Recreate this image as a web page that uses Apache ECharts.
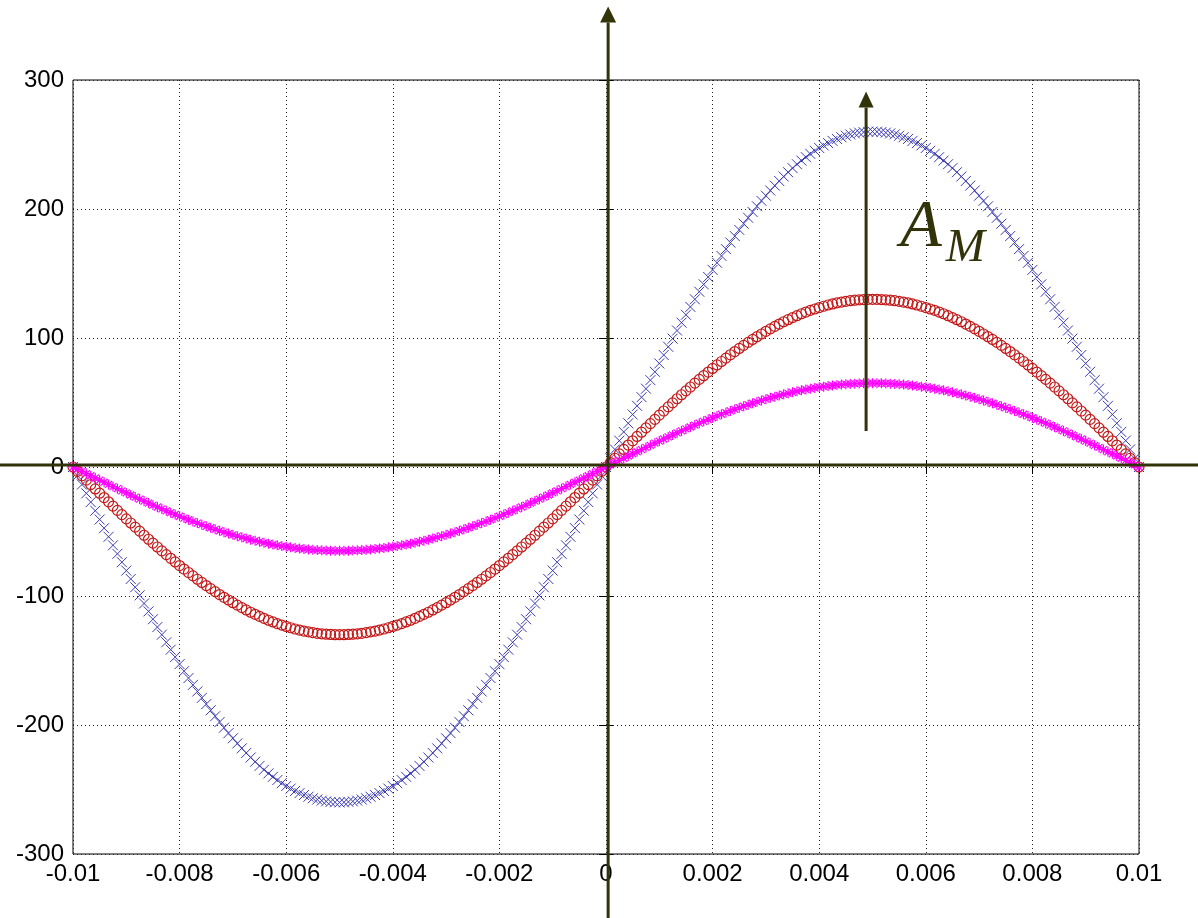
<!DOCTYPE html>
<html><head><meta charset="utf-8">
<script src="https://cdn.jsdelivr.net/npm/echarts@6/dist/echarts.min.js"></script>
<style>html,body{margin:0;padding:0;background:#fff}#c{width:1198px;height:918px}</style>
</head><body><div id="c"></div>
<script>
// time samples (s)
const t = [
-0.01,-0.009917,-0.009833,-0.00975,-0.009667,-0.009583,-0.0095,-0.009417,-0.009333,-0.00925,-0.009167,-0.009083,
-0.009,-0.008917,-0.008833,-0.00875,-0.008667,-0.008583,-0.0085,-0.008417,-0.008333,-0.00825,-0.008167,-0.008083,
-0.008,-0.007917,-0.007833,-0.00775,-0.007667,-0.007583,-0.0075,-0.007417,-0.007333,-0.00725,-0.007167,-0.007083,
-0.007,-0.006917,-0.006833,-0.00675,-0.006667,-0.006583,-0.0065,-0.006417,-0.006333,-0.00625,-0.006167,-0.006083,
-0.006,-0.005917,-0.005833,-0.00575,-0.005667,-0.005583,-0.0055,-0.005417,-0.005333,-0.00525,-0.005167,-0.005083,
-0.005,-0.004917,-0.004833,-0.00475,-0.004667,-0.004583,-0.0045,-0.004417,-0.004333,-0.00425,-0.004167,-0.004083,
-0.004,-0.003917,-0.003833,-0.00375,-0.003667,-0.003583,-0.0035,-0.003417,-0.003333,-0.00325,-0.003167,-0.003083,
-0.003,-0.002917,-0.002833,-0.00275,-0.002667,-0.002583,-0.0025,-0.002417,-0.002333,-0.00225,-0.002167,-0.002083,
-0.002,-0.001917,-0.001833,-0.00175,-0.001667,-0.001583,-0.0015,-0.001417,-0.001333,-0.00125,-0.001167,-0.001083,
-0.001,-0.000917,-0.000833,-0.00075,-0.000667,-0.000583,-0.0005,-0.000417,-0.000333,-0.00025,-0.000167,-0.000083,
0,0.000083,0.000167,0.00025,0.000333,0.000417,0.0005,0.000583,0.000667,0.00075,0.000833,0.000917,
0.001,0.001083,0.001167,0.00125,0.001333,0.001417,0.0015,0.001583,0.001667,0.00175,0.001833,0.001917,
0.002,0.002083,0.002167,0.00225,0.002333,0.002417,0.0025,0.002583,0.002667,0.00275,0.002833,0.002917,
0.003,0.003083,0.003167,0.00325,0.003333,0.003417,0.0035,0.003583,0.003667,0.00375,0.003833,0.003917,
0.004,0.004083,0.004167,0.00425,0.004333,0.004417,0.0045,0.004583,0.004667,0.00475,0.004833,0.004917,
0.005,0.005083,0.005167,0.00525,0.005333,0.005417,0.0055,0.005583,0.005667,0.00575,0.005833,0.005917,
0.006,0.006083,0.006167,0.00625,0.006333,0.006417,0.0065,0.006583,0.006667,0.00675,0.006833,0.006917,
0.007,0.007083,0.007167,0.00725,0.007333,0.007417,0.0075,0.007583,0.007667,0.00775,0.007833,0.007917,
0.008,0.008083,0.008167,0.00825,0.008333,0.008417,0.0085,0.008583,0.008667,0.00875,0.008833,0.008917,
0.009,0.009083,0.009167,0.00925,0.009333,0.009417,0.0095,0.009583,0.009667,0.00975,0.009833,0.009917,
0.01
];
// blue 'x' series
const blueX = [
0,-6.8,-13.6,-20.4,-27.2,-33.9,-40.7,-47.4,-54.1,-60.7,-67.3,-73.8,-80.3,-86.8,-93.2,-99.5,-105.8,-111.9,-118.0,-124.1,
-130.0,-135.9,-141.6,-147.3,-152.8,-158.3,-163.6,-168.9,-174.0,-179.0,-183.8,-188.6,-193.2,-197.7,-202.1,-206.3,-210.3,-214.3,-218.1,-221.7,
-225.2,-228.5,-231.7,-234.7,-237.5,-240.2,-242.7,-245.1,-247.3,-249.3,-251.1,-252.8,-254.3,-255.6,-256.8,-257.8,-258.6,-259.2,-259.6,-259.9,
-260,
-259.9,-259.6,-259.2,-258.6,-257.8,-256.8,-255.6,-254.3,-252.8,-251.1,-249.3,-247.3,-245.1,-242.7,-240.2,-237.5,-234.7,-231.7,-228.5,-225.2,
-221.7,-218.1,-214.3,-210.3,-206.3,-202.1,-197.7,-193.2,-188.6,-183.8,-179.0,-174.0,-168.9,-163.6,-158.3,-152.8,-147.3,-141.6,-135.9,-130.0,
-124.1,-118.0,-111.9,-105.8,-99.5,-93.2,-86.8,-80.3,-73.8,-67.3,-60.7,-54.1,-47.4,-40.7,-33.9,-27.2,-20.4,-13.6,-6.8,0,
6.8,13.6,20.4,27.2,33.9,40.7,47.4,54.1,60.7,67.3,73.8,80.3,86.8,93.2,99.5,105.8,111.9,118.0,124.1,130.0,
135.9,141.6,147.3,152.8,158.3,163.6,168.9,174.0,179.0,183.8,188.6,193.2,197.7,202.1,206.3,210.3,214.3,218.1,221.7,225.2,
228.5,231.7,234.7,237.5,240.2,242.7,245.1,247.3,249.3,251.1,252.8,254.3,255.6,256.8,257.8,258.6,259.2,259.6,259.9,260,
259.9,259.6,259.2,258.6,257.8,256.8,255.6,254.3,252.8,251.1,249.3,247.3,245.1,242.7,240.2,237.5,234.7,231.7,228.5,225.2,
221.7,218.1,214.3,210.3,206.3,202.1,197.7,193.2,188.6,183.8,179.0,174.0,168.9,163.6,158.3,152.8,147.3,141.6,135.9,130.0,
124.1,118.0,111.9,105.8,99.5,93.2,86.8,80.3,73.8,67.3,60.7,54.1,47.4,40.7,33.9,27.2,20.4,13.6,6.8,0
];
// red 'o' series
const redO = [
0,-3.4,-6.8,-10.2,-13.6,-17.0,-20.3,-23.7,-27.0,-30.3,-33.6,-36.9,-40.2,-43.4,-46.6,-49.7,-52.9,-56.0,-59.0,-62.0,
-65.0,-67.9,-70.8,-73.6,-76.4,-79.1,-81.8,-84.4,-87.0,-89.5,-91.9,-94.3,-96.6,-98.9,-101.0,-103.1,-105.2,-107.1,-109.0,-110.8,
-112.6,-114.2,-115.8,-117.3,-118.8,-120.1,-121.4,-122.5,-123.6,-124.6,-125.6,-126.4,-127.2,-127.8,-128.4,-128.9,-129.3,-129.6,-129.8,-130.0,
-130,
-130.0,-129.8,-129.6,-129.3,-128.9,-128.4,-127.8,-127.2,-126.4,-125.6,-124.6,-123.6,-122.5,-121.4,-120.1,-118.8,-117.3,-115.8,-114.2,-112.6,
-110.8,-109.0,-107.1,-105.2,-103.1,-101.0,-98.9,-96.6,-94.3,-91.9,-89.5,-87.0,-84.4,-81.8,-79.1,-76.4,-73.6,-70.8,-67.9,-65.0,
-62.0,-59.0,-56.0,-52.9,-49.7,-46.6,-43.4,-40.2,-36.9,-33.6,-30.3,-27.0,-23.7,-20.3,-17.0,-13.6,-10.2,-6.8,-3.4,0,
3.4,6.8,10.2,13.6,17.0,20.3,23.7,27.0,30.3,33.6,36.9,40.2,43.4,46.6,49.7,52.9,56.0,59.0,62.0,65.0,
67.9,70.8,73.6,76.4,79.1,81.8,84.4,87.0,89.5,91.9,94.3,96.6,98.9,101.0,103.1,105.2,107.1,109.0,110.8,112.6,
114.2,115.8,117.3,118.8,120.1,121.4,122.5,123.6,124.6,125.6,126.4,127.2,127.8,128.4,128.9,129.3,129.6,129.8,130.0,130,
130.0,129.8,129.6,129.3,128.9,128.4,127.8,127.2,126.4,125.6,124.6,123.6,122.5,121.4,120.1,118.8,117.3,115.8,114.2,112.6,
110.8,109.0,107.1,105.2,103.1,101.0,98.9,96.6,94.3,91.9,89.5,87.0,84.4,81.8,79.1,76.4,73.6,70.8,67.9,65.0,
62.0,59.0,56.0,52.9,49.7,46.6,43.4,40.2,36.9,33.6,30.3,27.0,23.7,20.3,17.0,13.6,10.2,6.8,3.4,0
];
// magenta '*' series
const magentaStar = [
0,-1.7,-3.4,-5.1,-6.8,-8.5,-10.2,-11.8,-13.5,-15.2,-16.8,-18.5,-20.1,-21.7,-23.3,-24.9,-26.4,-28.0,-29.5,-31.0,
-32.5,-34.0,-35.4,-36.8,-38.2,-39.6,-40.9,-42.2,-43.5,-44.7,-46.0,-47.1,-48.3,-49.4,-50.5,-51.6,-52.6,-53.6,-54.5,-55.4,
-56.3,-57.1,-57.9,-58.7,-59.4,-60.1,-60.7,-61.3,-61.8,-62.3,-62.8,-63.2,-63.6,-63.9,-64.2,-64.4,-64.6,-64.8,-64.9,-65.0,
-65,
-65.0,-64.9,-64.8,-64.6,-64.4,-64.2,-63.9,-63.6,-63.2,-62.8,-62.3,-61.8,-61.3,-60.7,-60.1,-59.4,-58.7,-57.9,-57.1,-56.3,
-55.4,-54.5,-53.6,-52.6,-51.6,-50.5,-49.4,-48.3,-47.1,-46.0,-44.7,-43.5,-42.2,-40.9,-39.6,-38.2,-36.8,-35.4,-34.0,-32.5,
-31.0,-29.5,-28.0,-26.4,-24.9,-23.3,-21.7,-20.1,-18.5,-16.8,-15.2,-13.5,-11.8,-10.2,-8.5,-6.8,-5.1,-3.4,-1.7,0,
1.7,3.4,5.1,6.8,8.5,10.2,11.8,13.5,15.2,16.8,18.5,20.1,21.7,23.3,24.9,26.4,28.0,29.5,31.0,32.5,
34.0,35.4,36.8,38.2,39.6,40.9,42.2,43.5,44.7,46.0,47.1,48.3,49.4,50.5,51.6,52.6,53.6,54.5,55.4,56.3,
57.1,57.9,58.7,59.4,60.1,60.7,61.3,61.8,62.3,62.8,63.2,63.6,63.9,64.2,64.4,64.6,64.8,64.9,65.0,65,
65.0,64.9,64.8,64.6,64.4,64.2,63.9,63.6,63.2,62.8,62.3,61.8,61.3,60.7,60.1,59.4,58.7,57.9,57.1,56.3,
55.4,54.5,53.6,52.6,51.6,50.5,49.4,48.3,47.1,46.0,44.7,43.5,42.2,40.9,39.6,38.2,36.8,35.4,34.0,32.5,
31.0,29.5,28.0,26.4,24.9,23.3,21.7,20.1,18.5,16.8,15.2,13.5,11.8,10.2,8.5,6.8,5.1,3.4,1.7,0
];
const xTicks = ['-0.01','-0.008','-0.006','-0.004','-0.002','0','0.002','0.004','0.006','0.008','0.01'];
const yTicks = ['-300','-200','-100','0','100','200','300'];
const xMin = -0.01, xMax = 0.01, xStep = 0.002;
const yMin = -300, yMax = 300, yStep = 100;
const amLabel = ['A', 'M'];

const OLIVE = '#33330a';
const chart = echarts.init(document.getElementById('c'), null, {renderer: 'canvas'});
const pts = ys => t.map((x, i) => [x, ys[i]]);
const labelFont = {fontFamily: 'Liberation Sans, Arial, sans-serif', fontSize: 24, color: '#000'};
const grid = {show: true, left: 73, top: 80, width: 1066, height: 774, borderColor: '#000', borderWidth: 1, backgroundColor: 'transparent'};
const split = {show: true, lineStyle: {color: '#222', type: [1, 3], width: 1}};
const tick = {show: true, inside: true, length: 7, lineStyle: {color: '#000', width: 1}};

function scatter(name, data, symbol, size, color, width, z) {
  return {
    type: 'scatter', name, data: pts(data), symbol, symbolSize: size, z,
    silent: true, animation: false,
    itemStyle: {color: 'transparent', borderColor: color, borderWidth: width, opacity: 1},
    emphasis: {disabled: true}
  };
}

chart.setOption({
  animation: false,
  backgroundColor: '#fff',
  grid,
  xAxis: [
    {type: 'value', min: xMin, max: xMax, interval: xStep, axisLine: {show: false}, axisTick: tick, splitLine: split,
     axisLabel: Object.assign({margin: 8, showMinLabel: true, showMaxLabel: true,
       formatter: v => xTicks[Math.round((v - xMin) / xStep)]}, labelFont)},
    {type: 'value', position: 'top', min: xMin, max: xMax, interval: xStep, axisLine: {show: false}, axisTick: tick,
     splitLine: {show: false}, axisLabel: {show: false}}
  ],
  yAxis: [
    {type: 'value', min: yMin, max: yMax, interval: yStep, axisLine: {show: false}, axisTick: tick, splitLine: split,
     axisLabel: Object.assign({margin: 9, showMinLabel: true, showMaxLabel: true,
       formatter: v => yTicks[Math.round((v - yMin) / yStep)]}, labelFont)},
    {type: 'value', position: 'right', min: yMin, max: yMax, interval: yStep, axisLine: {show: false}, axisTick: tick,
     splitLine: {show: false}, axisLabel: {show: false}}
  ],
  series: [
    scatter('blue', blueX, 'path://M0,0L10,10M10,0L0,10', 10, '#3c3cb4', 1, 3),
    scatter('red', redO, 'circle', 10, '#c41818', 1.2, 4),
    scatter('magenta', magentaStar, 'path://M5,0L5,10M0,5L10,5M1.5,1.5L8.5,8.5M8.5,1.5L1.5,8.5', 10, '#ff00ff', 1.2, 5)
  ]
});

// annotation overlay (axes with arrows and A_M arrow), positioned through the chart's scales
const px = (x, y) => chart.convertToPixel({xAxisIndex: 0, yAxisIndex: 0}, [x, y]);
const g = [];
function arrowLine(p1, p2, w, headW, headL) {
  // p2 is the tip
  const dx = p2[0] - p1[0], dy = p2[1] - p1[1];
  const len = Math.hypot(dx, dy), ux = dx / len, uy = dy / len;
  const bx = p2[0] - ux * headL, by = p2[1] - uy * headL;
  g.push({type: 'line', z: 100, shape: {x1: p1[0], y1: p1[1], x2: bx, y2: by}, style: {stroke: OLIVE, lineWidth: w}});
  g.push({type: 'polygon', z: 100, shape: {points: [[p2[0], p2[1]], [bx - uy * headW / 2, by + ux * headW / 2], [bx + uy * headW / 2, by - ux * headW / 2]]},
    style: {fill: OLIVE}});
}
const axX = 0.00004, axY = 1.5;
arrowLine(px(axX, -352), px(axX, 357), 3, 16, 16);           // vertical axis
arrowLine(px(-0.01137, axY), px(0.01142, axY), 3, 16, 16);     // horizontal axis
arrowLine(px(0.00488, 28), px(0.00488, 291), 3, 15, 16);       // A_M arrow
const pA = px(0.00591, 185), pM = px(0.00674, 169);
g.push({type: 'text', z: 101, x: pA[0], y: pA[1], style: {text: amLabel[0], font: 'italic 68px "Liberation Serif", "Times New Roman", serif', fill: OLIVE, align: 'center', verticalAlign: 'middle'}});
g.push({type: 'text', z: 101, x: pM[0], y: pM[1], style: {text: amLabel[1], font: 'italic 47px "Liberation Serif", "Times New Roman", serif', fill: OLIVE, align: 'center', verticalAlign: 'middle'}});
chart.setOption({graphic: {elements: g}});
</script>
</body></html>
